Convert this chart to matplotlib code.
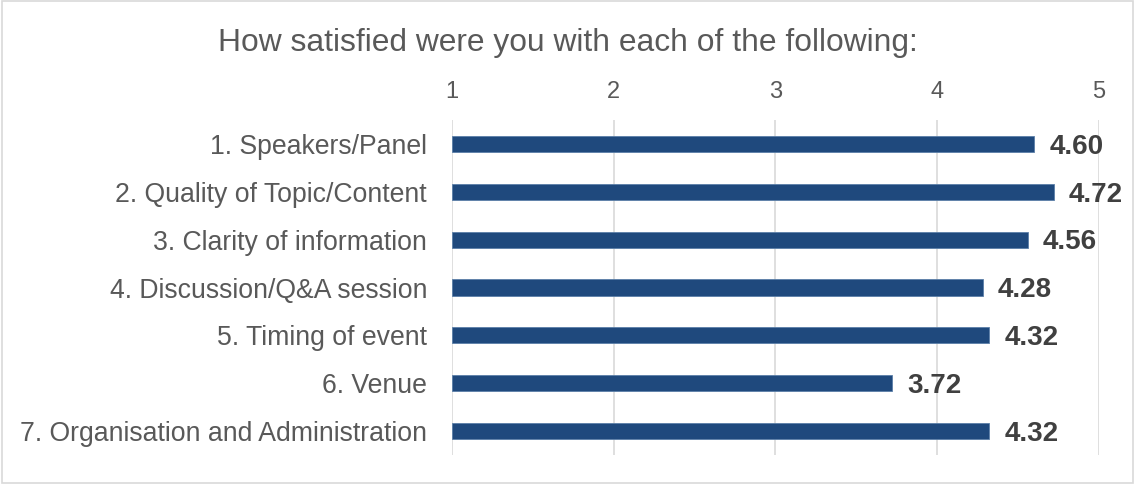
import matplotlib
matplotlib.use("Agg")
import matplotlib.pyplot as plt
from matplotlib.patches import Rectangle

categories = ["1. Speakers/Panel", "2. Quality of Topic/Content", "3. Clarity of information",
              "4. Discussion/Q&A session", "5. Timing of event", "6. Venue",
              "7. Organisation and Administration"]
values = [4.60, 4.72, 4.56, 4.28, 4.32, 3.72, 4.32]
ticks = [1, 2, 3, 4, 5]
title = "How satisfied were you with each of the following:"

plt.rcParams['font.family'] = ['Liberation Sans', 'DejaVu Sans']

fig = plt.figure(figsize=(11.35, 4.84), dpi=100)
ax = fig.add_axes([452/1135, 29/484, (1099-452)/1135, (455-120)/484])

y = list(range(len(categories)))
ax.barh(y, [v - 1 for v in values], left=1, height=0.34, color="#1F497D",
        edgecolor="#5B7FA8", linewidth=0.6, zorder=3)
for yi, v in zip(y, values):
    ax.annotate(f"{v:.2f}", (v, yi), xytext=(11, -2), textcoords="offset points",
                ha="left", va="center", fontsize=20, fontweight="bold", color="#404040")

ax.set_xlim(1, 5)
ax.set_ylim(len(categories) - 0.5, -0.5)
ax.set_xticks(ticks)
ax.set_xticklabels([str(t) for t in ticks])
ax.xaxis.tick_top()
ax.set_yticks(y)
ax.set_yticklabels(categories)
ax.tick_params(axis="x", length=0, pad=12, labelsize=17, labelcolor="#595959")
ax.tick_params(axis="y", length=0, pad=18, labelsize=19.15, labelcolor="#595959")
ax.grid(axis="x", color="#D9D9D9", linewidth=1.2, zorder=0)
for s in ax.spines.values():
    s.set_visible(False)

fig.text(568/1135, 1 - 43/484, title, ha="center", va="center", fontsize=22.9, color="#595959")
fig.patches.append(Rectangle((0.002, 0.002), 0.996, 0.996, transform=fig.transFigure,
                             fill=False, edgecolor="#D9D9D9", linewidth=1.2))

fig.savefig("out.png", dpi=100, facecolor="white")
